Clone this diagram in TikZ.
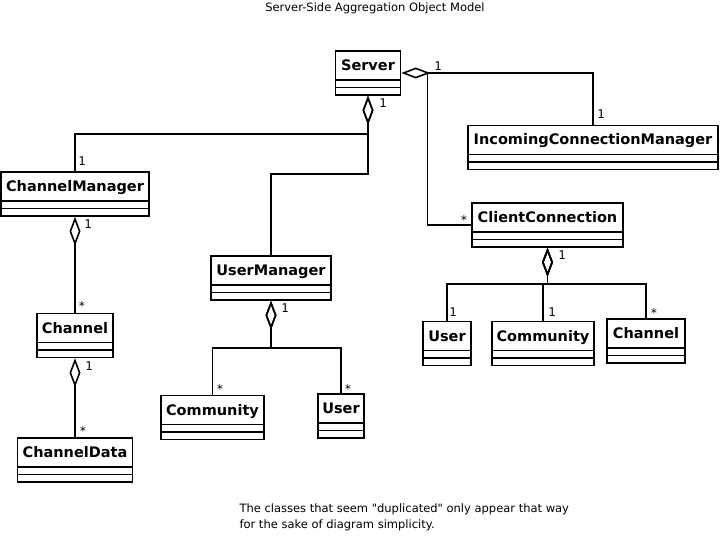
\documentclass[tikz,border=0pt]{standalone}
\usepackage{fontspec}
\setmainfont{DejaVu Sans}
\newfontfamily\multfont{DejaVu Sans Mono}
\newfontfamily\notefont{DejaVu Sans}
\usepackage{tikz}
\usetikzlibrary{arrows.meta,positioning,calc}

\begin{document}
\begin{tikzpicture}[x=1pt, y=-1pt,
  classbox/.style={draw, line width=1.6pt, inner sep=0pt,
    text height=19.5pt, text depth=24.5pt,
    font=\bfseries\fontsize{14.5}{17}\selectfont,
    path picture={
      \draw[line width=1.6pt] ([yshift=7.5pt]path picture bounding box.south west) -- ([yshift=7.5pt]path picture bounding box.south east);
      \draw[line width=1.6pt] ([yshift=15pt]path picture bounding box.south west) -- ([yshift=15pt]path picture bounding box.south east);}},
  agg/.style={line width=1.6pt, {Diamond[open, length=29pt, width=11pt]}-},
  assoc/.style={line width=1.6pt},
  mult/.style={font=\multfont\fontsize{12}{14}\selectfont, inner sep=0pt,
    text height=8pt, text depth=0pt}]

\useasboundingbox (0,0) rectangle (722,540);

\node[font=\fontsize{11.5}{14}\selectfont] (title) at (375,8) {Server-Side Aggregation Object Model};

% Classes
\node[classbox, minimum width=65pt] (server) at (368,73) {Server};
\node[classbox, minimum width=250pt] (icm) at (593,147.5) {IncomingConnectionManager};
\node[classbox, minimum width=148pt] (chmgr) at (75,194) {ChannelManager};
\node[classbox, minimum width=151pt] (cc) at (547.5,225) {ClientConnection};
\node[classbox, minimum width=120pt] (usermgr) at (271,278) {UserManager};

\node[classbox, minimum width=76pt] (chanL) at (75,335.5) {Channel};
\node[classbox, minimum width=115pt] (chandata) at (75,460) {ChannelData};

\node[classbox, minimum width=103pt] (commM) at (212.5,417.5) {Community};
\node[classbox, minimum width=46pt] (userM) at (341,416) {User};

\node[classbox, minimum width=48pt] (userR) at (447,343.5) {User};
\node[classbox, minimum width=102pt] (commR) at (543,343.5) {Community};
\node[classbox, minimum width=78pt] (chanR) at (646,341) {Channel};

% Aggregations
\draw[agg] (server.south) -- ++(0,38) -| (chmgr.north);
\draw[agg] (server.south) -- ++(0,78) -| (usermgr.north);
\draw[agg] (server.east) -| (icm.north);
\draw[assoc] ([xshift=26pt]server.east) |- (cc.west);

\draw[agg] (chmgr.south) -- (chanL.north);
\draw[agg] (chanL.south) -- (chandata.north);

\draw[agg] (usermgr.south) -- ++(0,47) -| (commM.north);
\draw[agg] (usermgr.south) -- ++(0,47) -| (userM.north);

\draw[agg] (cc.south) -- ++(0,36) -| (userR.north);
\draw[agg] (cc.south) -- ++(0,36) -| (commR.north);
\draw[agg] (cc.south) -- ++(0,36) -| (chanR.north);

% Multiplicities
\node[mult] (m1) at (383,104) {1};
\node[mult] (m2) at (438,67) {1};
\node[mult] (m3) at (601,115) {1};
\node[mult] (m4) at (464,220) {*};
\node[mult] (m5) at (82,161) {1};
\node[mult] (m6) at (88,224) {1};
\node[mult] (m7) at (82,306) {*};
\node[mult] (m8) at (89,366) {1};
\node[mult] (m9) at (83,431) {*};
\node[mult] (m10) at (285,308) {1};
\node[mult] (m11) at (220,389) {*};
\node[mult] (m12) at (348,389) {*};
\node[mult] (m13) at (562,255) {1};
\node[mult] (m14) at (453,312) {1};
\node[mult] (m15) at (552,312) {1};
\node[mult] (m16) at (654,313) {*};

% Note below
\node[font=\notefont\fontsize{11.5}{16}\selectfont, anchor=west, align=left] (note) at (236,517)
  {The classes that seem "duplicated" only appear that way\\for the sake of diagram simplicity.};

\end{tikzpicture}
\end{document}
